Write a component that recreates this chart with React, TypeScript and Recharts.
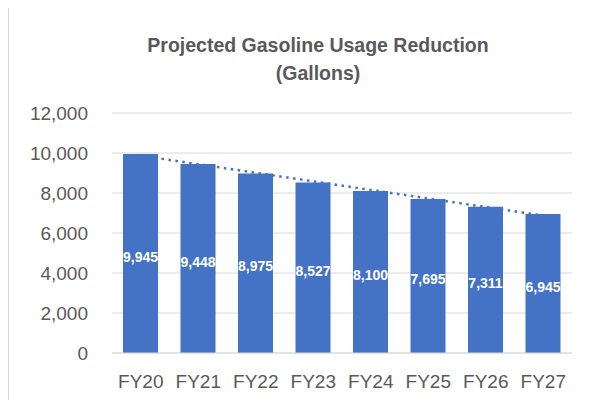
import React from 'react';
import { ComposedChart, Bar, Line, XAxis, YAxis, CartesianGrid, LabelList } from 'recharts';

const years = ['FY20', 'FY21', 'FY22', 'FY23', 'FY24', 'FY25', 'FY26', 'FY27'];
const gallons = [9945, 9448, 8975, 8527, 8100, 7695, 7311, 6945];
const yTicks = [0, 2000, 4000, 6000, 8000, 10000, 12000];

// linear trendline (least squares), same as the spreadsheet's trendline
const n = gallons.length;
const meanX = (n - 1) / 2;
const meanY = gallons.reduce((a, b) => a + b, 0) / n;
let sxy = 0;
let sxx = 0;
gallons.forEach((v, i) => {
  sxy += (i - meanX) * (v - meanY);
  sxx += (i - meanX) * (i - meanX);
});
const slope = sxy / sxx;

const data = years.map((year, i) => ({
  year,
  gallons: gallons[i],
  trend: meanY + slope * (i - meanX),
}));

const font = '"Liberation Sans", Arial, sans-serif';
const fmt = (v: number) => v.toLocaleString('en-US');

const renderValue = (props: any) => {
  const { x, y, width, height, value } = props;
  return (
    <text
      x={x + width / 2}
      y={y + height / 2 + 3}
      fill="#ffffff"
      textAnchor="middle"
      dominantBaseline="central"
      fontFamily={font}
      fontSize={14}
      fontWeight="bold"
    >
      {fmt(value)}
    </text>
  );
};

const App: React.FC = () => {
  return (
    <div style={{ position: 'relative', width: 586, height: 392, overflow: 'hidden' }}>
      <div
        style={{
          position: 'absolute',
          left: 0,
          top: -1,
          width: 700,
          height: 500,
          borderLeft: '1px solid #d9d9d9',
          borderTop: '1px solid #d9d9d9',
        }}
      />
      <div
        style={{
          position: 'absolute',
          left: 60,
          top: 23,
          width: 500,
          textAlign: 'center',
          fontFamily: font,
          fontSize: 19.5,
          fontWeight: 'bold',
          lineHeight: '28px',
          color: '#595959',
        }}
      >
        Projected Gasoline Usage Reduction
        <br />
        (Gallons)
      </div>
      <div style={{ position: 'absolute', left: 0, top: 0 }}>
        <ComposedChart
          width={586}
          height={392}
          data={data}
          margin={{ top: 105, right: 22, bottom: 17, left: 0 }}
        >
          <CartesianGrid vertical={false} stroke="#d9d9d9" />
          <XAxis
            dataKey="year"
            height={30}
            axisLine={{ stroke: '#d9d9d9' }}
            tickLine={false}
            tickSize={0}
            tickMargin={22}
            tick={{ fill: '#595959', fontSize: 19, fontFamily: font }}
          />
          <YAxis
            width={104}
            domain={[0, 12000]}
            ticks={yTicks}
            tickFormatter={fmt}
            axisLine={false}
            tickLine={false}
            tickSize={0}
            tickMargin={24}
            tick={{ fill: '#595959', fontSize: 19, fontFamily: font }}
          />
          <Bar dataKey="gallons" fill="#4472C4" barSize={35} isAnimationActive={false}>
            <LabelList dataKey="gallons" content={renderValue} />
          </Bar>
          <Line
            dataKey="trend"
            type="linear"
            stroke="#4472C4"
            strokeWidth={2.5}
            strokeDasharray="2.5 4.5"
            dot={false}
            activeDot={false}
            isAnimationActive={false}
          />
        </ComposedChart>
      </div>
    </div>
  );
};

export default App;
